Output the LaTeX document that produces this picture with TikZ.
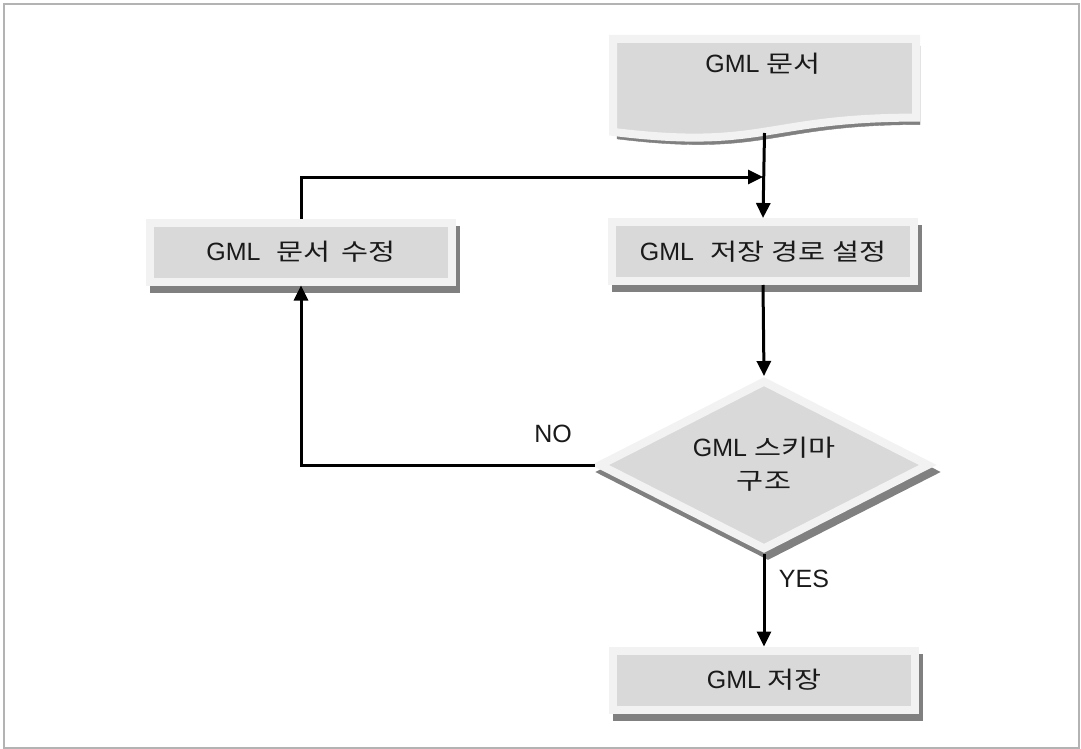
\documentclass[tikz,border=0pt]{standalone}
\usepackage{fontspec}
\setmainfont{Liberation Sans}
\newfontfamily\kr{Noto Sans CJK KR}[Scale=0.94,FakeStretch=1.25]
\usetikzlibrary{arrows.meta,shapes.geometric}

\definecolor{framegray}{HTML}{B3B3B3}
\definecolor{rim}{HTML}{F2F2F2}
\definecolor{core}{HTML}{D9D9D9}
\definecolor{shade}{HTML}{808080}
\definecolor{ink}{HTML}{1A1A1A}

% extra word spacing, in points
\newcommand\wsp[1]{\hspace{#1pt}}

\tikzset{
  shadowed/.style={preaction={fill=shade, draw=shade, transform canvas={xshift=4pt,yshift=-7pt}}},
  panel/.style={fill=core, draw=rim, line width=8pt, line join=miter, shadowed},
  label/.style={text=ink, font=\fontsize{25}{33}\selectfont, inner sep=0pt},
  flowbox/.style={panel, label, rectangle, minimum width=302pt, minimum height=59pt},
  choice/.style={panel, label, diamond, aspect=2, align=center, minimum width=331pt, minimum height=170pt},
  flow/.style={draw=black, line width=3pt, -{Triangle[length=15pt,width=14pt]}},
  tag/.style={text=ink, font=\fontsize{25}{29}\selectfont, inner sep=0pt}
}

\begin{document}
\begin{tikzpicture}[x=1pt,y=-1pt]
  \useasboundingbox (0,0) rectangle (1081,749);
  \draw[framegray, line width=1.5pt] (4,4) rectangle (1079,748);

  % document symbol with wavy foot
  \path[panel] (613,39) -- (916,39) -- (916,117.6)
    .. controls (764.5,117.6) and (764.5,150.5) .. (613,131.9) -- cycle;
  \node[label] (doc) at (763,64) {GML\wsp{7}{\kr 문서}};
  \coordinate (docfoot) at (764.5,133);

  % process steps and decision
  \node[flowbox] (setpath) at (763,251.5) {GML\wsp{16}{\kr 저장\wsp{7}경로\wsp{7}설정}};
  \node[flowbox] (modify) at (301,252) {GML\wsp{16}{\kr 문서\wsp{11}수정}};
  \node[choice] (decision) at (764,465) {\raisebox{3pt}{GML\wsp{7}{\kr 스키마}}\\\raisebox{3pt}{\kr 구조}};
  \node[flowbox] (save) at (764,680) {GML\wsp{6}{\kr 저장}};

  \coordinate (merge) at (763,177);

  % connectors
  \draw[flow] (docfoot) -- (setpath.north);
  \draw[flow] (modify.north) |- (merge);
  \draw[flow] (setpath.south) -- (decision.north);
  \draw[flow] (decision.west) -| (modify.south);
  \draw[flow] (decision.south) -- (save.north);

  \node[tag] (no) at (553,434) {NO};
  \node[tag] (yes) at (804,579) {YES};
\end{tikzpicture}
\end{document}
